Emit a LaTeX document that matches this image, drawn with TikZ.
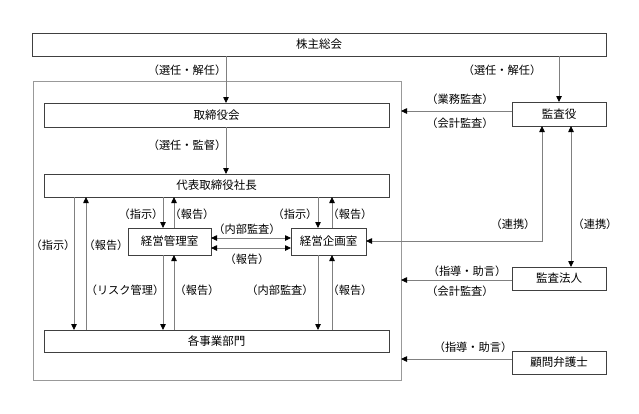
\documentclass[tikz,border=0pt]{standalone}
\usepackage{fontspec}
\newfontfamily\jp{Noto Sans CJK JP}
\usetikzlibrary{arrows.meta}
\tikzset{
  box/.style={draw=black!75, line width=0.7pt, fill=white, inner sep=0pt, outer sep=0pt, font=\jp\fontsize{11.5}{13}\selectfont},
  lab/.style={inner sep=0pt, font=\jp\fontsize{11.2}{13}\selectfont},
  conn/.style={draw=black!50, line width=0.8pt},
  arr/.style={conn, -{Triangle[length=6pt,width=5.5pt,color=black]}},
  darr/.style={conn, {Triangle[length=6pt,width=5.5pt,color=black]}-{Triangle[length=6pt,width=5.5pt,color=black]}}
}
\begin{document}
\begin{tikzpicture}[x=1pt,y=-1pt]
\useasboundingbox (0,0) rectangle (639,413);
\fill[white] (0,0) rectangle (639,413);
% outer frame
\node[draw=black!40, line width=0.8pt, inner sep=0pt, outer sep=0pt, minimum width=368pt, minimum height=299pt] (outer) at (217,230.5) {};
% boxes
\node[box, minimum width=574pt, minimum height=23pt] (shu) at (319,44.5) {株主総会};
\node[box, minimum width=345pt, minimum height=24pt] (tori) at (216.5,115) {取締役会};
\node[box, minimum width=345pt, minimum height=23pt] (daihyo) at (216.5,185.5) {代表取締役社長};
\node[box, minimum width=83pt, minimum height=27pt] (kanri) at (169.5,241.5) {経営管理室};
\node[box, minimum width=75pt, minimum height=27pt] (kikaku) at (328.5,241.5) {経営企画室};
\node[box, minimum width=345pt, minimum height=22pt] (jigyo) at (216.5,341) {各事業部門};
\node[box, minimum width=94pt, minimum height=24pt] (kansa) at (559,114) {監査役};
\node[box, minimum width=94pt, minimum height=23pt] (hojin) at (559,278.5) {監査法人};
\node[box, minimum width=94pt, minimum height=23pt] (bengo) at (559,362.5) {顧問弁護士};
% x / y guide coordinates
\coordinate (x226) at (226,0);
\coordinate (x559) at (559,0);
\coordinate (x74) at (74,0);
\coordinate (x86) at (86,0);
\coordinate (x163) at (163,0);
\coordinate (x174) at (174,0);
\coordinate (x318) at (318,0);
\coordinate (x332) at (332,0);
\coordinate (x542) at (542,0);
\coordinate (x571) at (571,0);
\coordinate (y111) at (0,111);
\coordinate (y238) at (0,238);
\coordinate (y248) at (0,248);
\coordinate (y241) at (0,241);
\coordinate (y280) at (0,280);
\coordinate (y359) at (0,359);
% connectors
\draw[arr] (shu.south -| x226) -- (tori.north -| x226);
\draw[arr] (tori.south -| x226) -- (daihyo.north -| x226);
\draw[arr] (shu.south -| x559) -- (kansa.north -| x559);
\draw[arr] (kansa.west |- y111) -- (outer.east |- y111);
\draw[arr] (daihyo.south -| x74) -- (jigyo.north -| x74);
\draw[arr] (jigyo.north -| x86) -- (daihyo.south -| x86);
\draw[arr] (daihyo.south -| x163) -- (kanri.north -| x163);
\draw[arr] (kanri.north -| x174) -- (daihyo.south -| x174);
\draw[arr] (kanri.south -| x163) -- (jigyo.north -| x163);
\draw[arr] (jigyo.north -| x174) -- (kanri.south -| x174);
\draw[arr] (daihyo.south -| x318) -- (kikaku.north -| x318);
\draw[arr] (kikaku.north -| x332) -- (daihyo.south -| x332);
\draw[arr] (kikaku.south -| x318) -- (jigyo.north -| x318);
\draw[arr] (jigyo.north -| x332) -- (kikaku.south -| x332);
\draw[darr] (kanri.east |- y238) -- (kikaku.west |- y238);
\draw[darr] (kanri.east |- y248) -- (kikaku.west |- y248);
\draw[darr] (kikaku.east |- y241) -| (kansa.south -| x542);
\draw[darr] (kansa.south -| x571) -- (hojin.north -| x571);
\draw[arr] (hojin.west |- y280) -- (outer.east |- y280);
\draw[arr] (bengo.west |- y359) -- (outer.east |- y359);
% labels
\node[lab] (l1) at (187,70) {（選任・解任）};
\node[lab] (l2) at (187,145) {（選任・監督）};
\node[lab] (l3) at (502,70) {（選任・解任）};
\node[lab] (l4) at (460,99) {（業務監査）};
\node[lab] (l5) at (460,123) {（会計監査）};
\node[lab] (l6) at (53,245) {（指示）};
\node[lab] (l7) at (106,245) {（報告）};
\node[lab] (l8) at (141,214) {（指示）};
\node[lab] (l9) at (192,214) {（報告）};
\node[lab] (l10) at (247,229) {（内部監査）};
\node[lab] (l11) at (247,259) {（報告）};
\node[lab] (l12) at (295,214) {（指示）};
\node[lab] (l13) at (350,214) {（報告）};
\node[lab] (l14) at (125,290) {（リスク管理）};
\node[lab] (l15) at (197,290) {（報告）};
\node[lab] (l16) at (280,290) {（内部監査）};
\node[lab] (l17) at (350,290) {（報告）};
\node[lab] (l18) at (513,224) {（連携）};
\node[lab] (l19) at (595,224) {（連携）};
\node[lab] (l20) at (467,271) {（指導・助言）};
\node[lab] (l21) at (460,291) {（会計監査）};
\node[lab] (l22) at (473,347) {（指導・助言）};
\end{tikzpicture}
\end{document}
